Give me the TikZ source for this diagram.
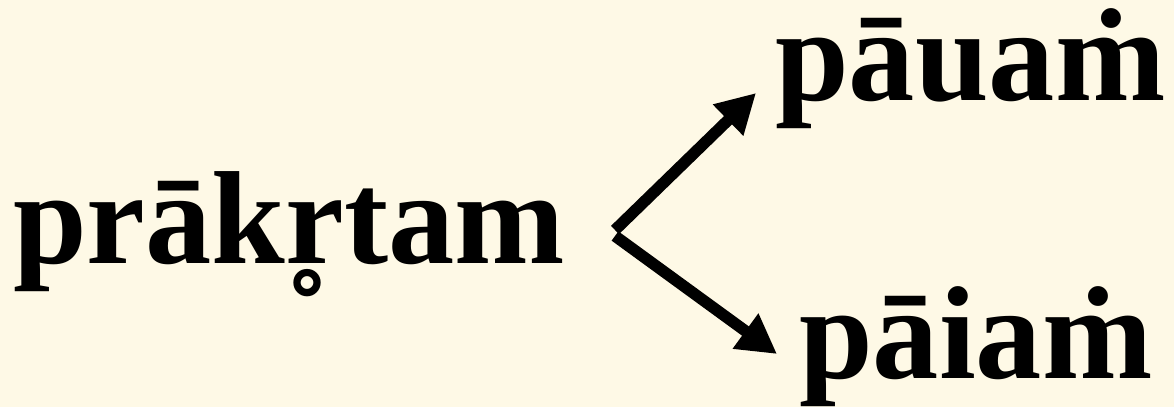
\documentclass[tikz,border=0pt]{standalone}
\usepackage{fontspec}
\setmainfont{Liberation Serif}
\usetikzlibrary{arrows.meta}
\definecolor{bgcream}{RGB}{254,249,230}
\begin{document}
\begin{tikzpicture}[x=1pt,y=-1pt,
  word/.style={anchor=base west, inner sep=0pt, font=\fontsize{132.5}{136}\selectfont\bfseries},
  conn/.style={line width=11.5pt, -{Triangle[length=39pt,width=41pt]}}]
\fill[bgcream] (0,0) rectangle (1174,407);
\useasboundingbox (0,0) rectangle (1174,407);
\node[word] (src) at (13,263) {prākr̥tam};
\node[word] (up) at (775,100) {pāuaṁ};
\node[word] (dn) at (799,378) {pāiaṁ};
\coordinate (va) at (615,230);
\coordinate (vb) at (615,236);
\coordinate (t1) at (756,93);
\coordinate (t2) at (777,354);
\draw[conn] (va) -- (t1);
\draw[conn] (vb) -- (t2);
\end{tikzpicture}
\end{document}
